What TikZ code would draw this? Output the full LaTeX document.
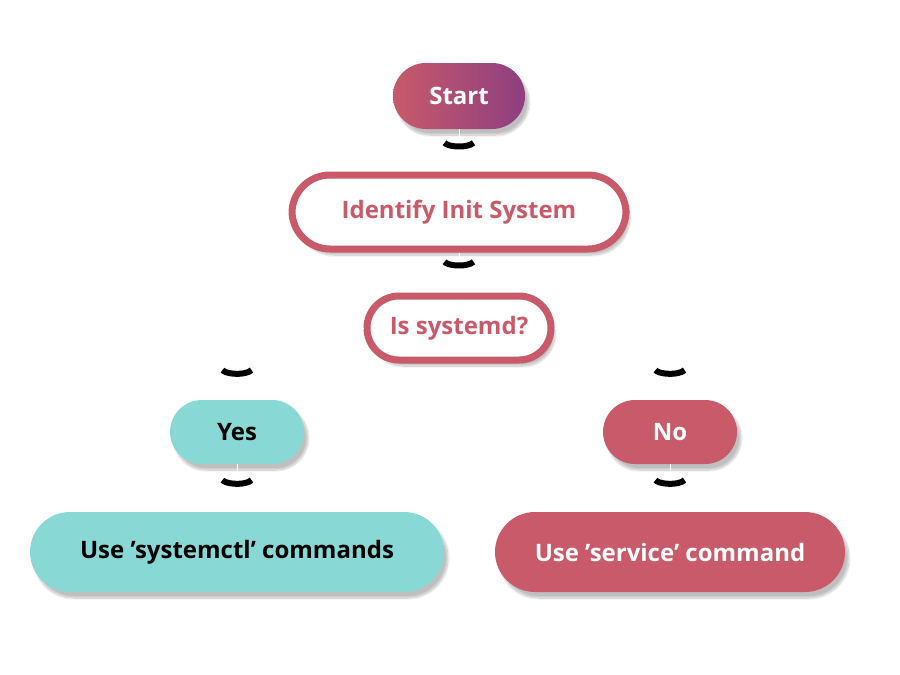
\documentclass[tikz,border=0pt]{standalone}
\usepackage{fontspec}
\setmainfont{Open Sans}
\usetikzlibrary{arrows.meta,shadows.blur}
\definecolor{rose}{HTML}{C85A6A}
\definecolor{plum}{HTML}{8E3F80}
\definecolor{teal}{HTML}{88D8D6}
\begin{document}
\begin{tikzpicture}[x=1pt,y=-1pt,
  box/.style={rounded corners=#1, align=center, inner sep=0pt,
    font=\fontsize{24}{28}\selectfont\bfseries,
    blur shadow={shadow blur steps=12, shadow xshift=4pt, shadow yshift=-6pt, shadow opacity=25}},
  box/.default=32pt,
  outl/.style={box, draw=rose, line width=7pt, fill=white, text=rose},
  conn/.style={white, line width=0.1pt, -{Arc Barb[arc=150,length=8pt,width=36pt,line width=6pt,color=black]}}]
\useasboundingbox (0,0) rectangle (900,675);
\node[box=33pt, minimum width=132pt, minimum height=66pt, left color=rose, right color=plum, text=white] (start) at (459,96) {Start};
\node[outl, rounded corners=38pt, minimum width=334pt, minimum height=74pt] (ident) at (459,212) {Identify Init System};
\node[outl, rounded corners=32pt, minimum width=184pt, minimum height=64pt] (issys) at (459,328) {Is systemd?};
\node[box, minimum width=134pt, minimum height=64pt, fill=teal, text=black] (yes) at (237,432) {Yes};
\node[box, minimum width=134pt, minimum height=64pt, fill=rose, text=white] (no) at (670,432) {No};
\node[box=40pt, minimum width=414pt, minimum height=80pt, fill=teal, text=black] (sysctl) at (237,552) {Use 'systemctl' commands};
\node[box=40pt, minimum width=350pt, minimum height=80pt, fill=rose, text=white] (service) at (670,552) {Use 'service' command};
\draw[conn, shorten >=22pt] (start) -- (ident);
\draw[conn, shorten >=24pt] (ident) -- (issys);
\draw[conn, shorten >=23pt] (issys) -| (yes);
\draw[conn, shorten >=23pt] (issys) -| (no);
\draw[conn, shorten >=25pt] (yes) -- (sysctl);
\draw[conn, shorten >=25pt] (no) -- (service);
\end{tikzpicture}
\end{document}
